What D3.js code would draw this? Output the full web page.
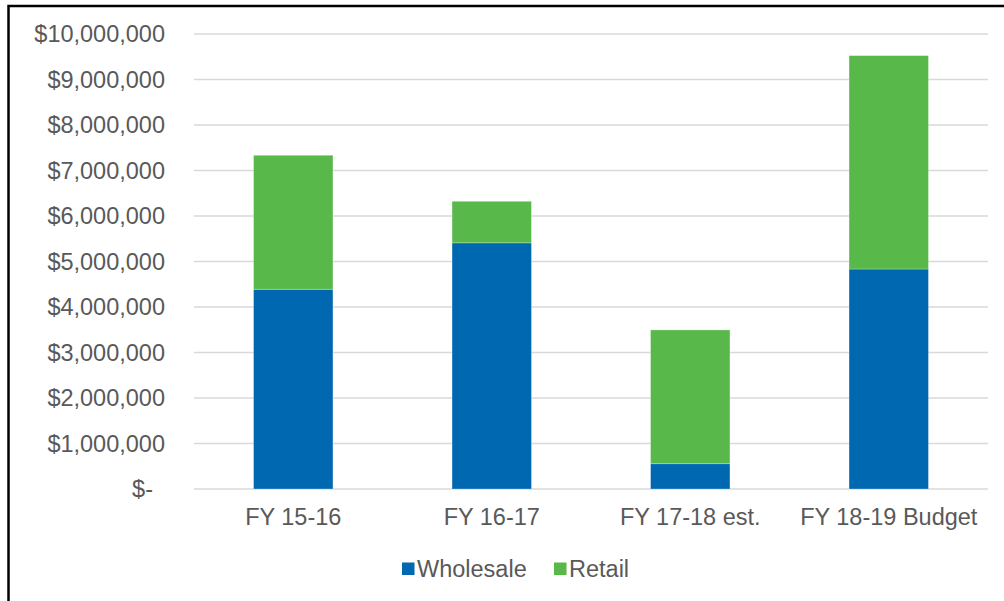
<!DOCTYPE html>
<html><head><meta charset="utf-8">
<script src="https://cdn.jsdelivr.net/npm/d3@7"></script>
<style>
html,body{margin:0;padding:0;background:#fff;overflow:hidden;}
text{font-family:"Liberation Sans",Arial,sans-serif;}
</style></head>
<body><svg id="c" width="1004" height="601"></svg>
<script>
const categories = ["FY 15-16", "FY 16-17", "FY 17-18 est.", "FY 18-19 Budget"];
const seriesNames = ["Wholesale", "Retail"];
const wholesale = [4390000, 5410000, 556000, 4835000];
const retail = [2945000, 913000, 2940000, 4690000];
const yTicks = [0,1000000,2000000,3000000,4000000,5000000,6000000,7000000,8000000,9000000,10000000];
const colors = ["#0067b1", "#58b84a"];

(function(){
const svg = d3.select("#c");
const W = 1004, H = 601;
const mLeft = 194, mRight = 988, mTop = 34, mBottom = 489;
const fs = 23.5;

// outer border
svg.append("rect").attr("x", 8.5).attr("y", 6).attr("width", W + 20).attr("height", H + 20)
  .attr("fill", "none").attr("stroke", "#000").attr("stroke-width", 2.5);

const x = d3.scaleBand().domain(categories).range([mLeft, mRight]).padding(0);
const y = d3.scaleLinear().domain([0, 10000000]).range([mBottom, mTop]);

// gridlines
svg.append("g").selectAll("line").data(yTicks).join("line")
  .attr("x1", mLeft).attr("x2", mRight)
  .attr("y1", d => y(d)).attr("y2", d => y(d))
  .attr("stroke", "#d9d9d9").attr("stroke-width", 1.5);

// y axis labels
const fmt = d => d === 0 ? "$-" : "$" + d3.format(",")(d);
svg.append("g").selectAll("text").data(yTicks).join("text")
  .attr("x", d => d === 0 ? 153 : 165)
  .attr("y", d => y(d)).attr("dy", "0.35em")
  .attr("text-anchor", "end").attr("font-size", fs).attr("fill", "#595959")
  .text(fmt);

// stacked data
const rows = categories.map((c, i) => ({cat: c, Wholesale: wholesale[i], Retail: retail[i]}));
const stack = d3.stack().keys(seriesNames)(rows);
const bw = x.bandwidth() * 0.4;

svg.append("g").selectAll("g").data(stack).join("g")
  .attr("fill", (d, i) => colors[i])
  .selectAll("rect").data(d => d).join("rect")
  .attr("x", d => x(d.data.cat) + (x.bandwidth() - bw) / 2)
  .attr("width", bw)
  .attr("y", d => y(d[1]))
  .attr("height", d => y(d[0]) - y(d[1]))
  .attr("stroke", "#ffffff").attr("stroke-opacity", 0.35).attr("stroke-width", 0.8);

// x labels
svg.append("g").selectAll("text").data(categories).join("text")
  .attr("x", d => x(d) + x.bandwidth() / 2)
  .attr("y", 525)
  .attr("text-anchor", "middle").attr("font-size", fs).attr("fill", "#595959")
  .text(d => d);

// legend
const legendX = [402, 554];
const lg = svg.append("g").selectAll("g").data(seriesNames).join("g")
  .attr("transform", (d, i) => `translate(${legendX[i]},0)`);
lg.append("rect").attr("x", 0).attr("y", 562.5).attr("width", 12.5).attr("height", 12.5)
  .attr("fill", (d, i) => colors[i]);
lg.append("text").attr("x", 15).attr("y", 568.5).attr("dy", "0.35em")
  .attr("font-size", fs).attr("fill", "#595959").text(d => d);
})();
</script>
</body></html>
